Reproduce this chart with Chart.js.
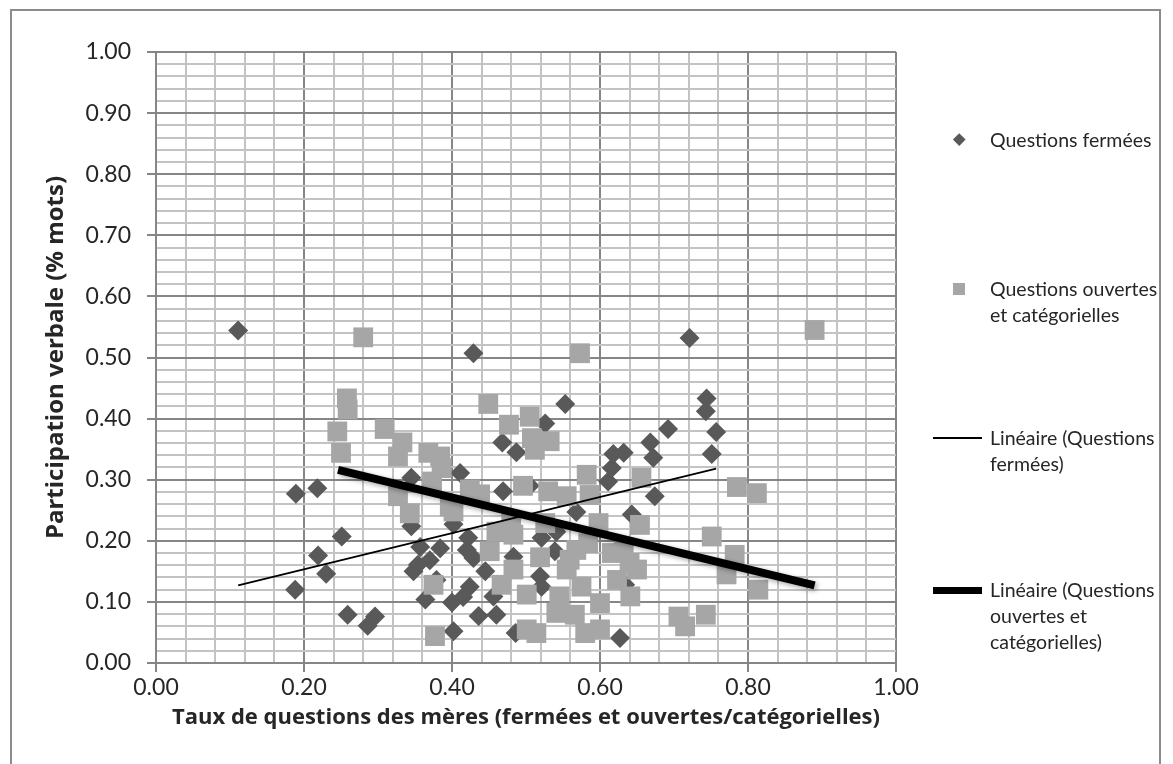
<!DOCTYPE html>
<html><head><meta charset="utf-8">
<script src="https://cdn.jsdelivr.net/npm/chart.js@4.4.0/dist/chart.umd.min.js"></script>
<style>
html,body{margin:0;padding:0;background:#fff;}
#wrap{position:relative;width:1173px;height:764px;overflow:hidden;background:#fff;}
canvas{position:absolute;left:0;top:0;}
#frame{position:absolute;left:10px;top:9px;width:1151px;height:800px;border:2px solid #8c8c8c;box-sizing:border-box;pointer-events:none;}
.lg{position:absolute;left:990px;font-family:Lato,"Liberation Sans",sans-serif;font-size:19.5px;color:#262626;line-height:26px;white-space:nowrap;}
.mk{position:absolute;}
</style></head>
<body><div id="wrap">
<canvas id="c" width="1173" height="764"></canvas>
<div id="frame"></div>
<div class="mk" style="left:955px;top:135px;width:8.5px;height:8.5px;background:#595959;transform:rotate(45deg);"></div>
<div class="lg" style="top:127px;">Questions fermées</div>
<div class="mk" style="left:953px;top:283px;width:12px;height:12px;background:#a6a6a6;"></div>
<div class="lg" style="top:276px;">Questions ouvertes<br>et catégorielles</div>
<div class="mk" style="left:933px;top:437px;width:49px;height:2px;background:#000;"></div>
<div class="lg" style="top:425px;">Linéaire (Questions<br>fermées)</div>
<div class="mk" style="left:933px;top:587px;width:49px;height:7px;background:#000;"></div>
<div class="lg" style="top:577px;">Linéaire (Questions<br>ouvertes et<br>catégorielles)</div>
</div>
<script>
// Questions fermées
const closedX = [0.111,0.189,0.218,0.188,0.219,0.230,0.251,0.259,0.286,0.296,0.345,0.345,0.357,0.354,0.348,0.364,0.379,0.384,0.370,0.402,0.411,0.400,0.402,0.415,0.422,0.420,0.429,0.424,0.429,0.436,0.445,0.456,0.460,0.469,0.468,0.483,0.487,0.486,0.505,0.521,0.519,0.521,0.526,0.539,0.541,0.553,0.568,0.611,0.616,0.618,0.632,0.634,0.627,0.643,0.668,0.672,0.674,0.692,0.721,0.744,0.743,0.751,0.757];
const closedY = [0.544,0.277,0.286,0.120,0.176,0.146,0.207,0.079,0.061,0.076,0.303,0.224,0.190,0.161,0.150,0.104,0.136,0.188,0.168,0.227,0.311,0.099,0.052,0.108,0.205,0.185,0.172,0.125,0.507,0.077,0.150,0.109,0.079,0.281,0.361,0.174,0.345,0.049,0.290,0.205,0.142,0.125,0.392,0.183,0.215,0.424,0.247,0.297,0.319,0.342,0.344,0.128,0.041,0.243,0.361,0.336,0.273,0.383,0.532,0.433,0.412,0.342,0.378];
// Questions ouvertes et catégorielles
const openX = [0.280,0.258,0.259,0.245,0.250,0.309,0.333,0.327,0.327,0.343,0.368,0.384,0.386,0.373,0.375,0.377,0.397,0.402,0.424,0.438,0.449,0.451,0.460,0.467,0.477,0.480,0.483,0.483,0.496,0.501,0.501,0.505,0.508,0.512,0.514,0.519,0.526,0.530,0.532,0.541,0.545,0.555,0.555,0.559,0.566,0.568,0.573,0.575,0.580,0.582,0.584,0.586,0.598,0.600,0.600,0.616,0.623,0.632,0.640,0.641,0.650,0.654,0.656,0.706,0.715,0.743,0.751,0.771,0.782,0.785,0.812,0.814,0.890];
const openY = [0.533,0.433,0.415,0.379,0.344,0.383,0.361,0.338,0.273,0.245,0.344,0.338,0.319,0.297,0.128,0.044,0.256,0.248,0.284,0.276,0.424,0.183,0.215,0.128,0.390,0.229,0.210,0.153,0.290,0.112,0.055,0.403,0.368,0.349,0.049,0.173,0.229,0.281,0.363,0.082,0.109,0.273,0.153,0.169,0.079,0.185,0.507,0.125,0.049,0.308,0.196,0.275,0.229,0.098,0.055,0.180,0.136,0.188,0.164,0.109,0.153,0.226,0.303,0.076,0.060,0.079,0.207,0.145,0.177,0.288,0.278,0.120,0.545];
// Linear trend lines (end points)
const trendClosedX = [0.111, 0.757];
const trendClosedY = [0.127, 0.318];
const trendOpenX = [0.246, 0.890];
const trendOpenY = [0.316, 0.127];
// Tick labels
const xTickLabels = ['0.00','0.20','0.40','0.60','0.80','1.00'];
const yTickLabels = ['0.00','0.10','0.20','0.30','0.40','0.50','0.60','0.70','0.80','0.90','1.00'];

const pts = (xs, ys) => xs.map((x, i) => ({x: x, y: ys[i]}));
const FONT = 'Lato, "Liberation Sans", sans-serif';
const TFONT = '"Open Sans", "Liberation Sans", sans-serif';
const MAJ = '#868686', MIN = '#c3c3c3';
const xMajor = v => Math.round(v * 100) % 20 === 0;
const yMajor = v => Math.round(v * 100) % 10 === 0;

const shadowPlugin = {
  id: 'shadow',
  beforeDatasetDraw(chart, args) {
    if (args.index === 0) {
      const c = chart.ctx; c.save();
      c.shadowColor = 'rgba(0,0,0,0.35)'; c.shadowBlur = 5; c.shadowOffsetX = 2; c.shadowOffsetY = 2;
    }
  },
  afterDatasetDraw(chart, args) { if (args.index === 0) chart.ctx.restore(); }
};

new Chart(document.getElementById('c'), {
  type: 'scatter',
  data: {
    datasets: [
      {label: 'Linéaire (Questions ouvertes et catégorielles)', type: 'line', data: pts(trendOpenX, trendOpenY), borderColor: '#000', borderWidth: 8, pointRadius: 0, fill: false, borderCapStyle: 'butt'},
      {label: 'Linéaire (Questions fermées)', type: 'line', data: pts(trendClosedX, trendClosedY), borderColor: '#000', borderWidth: 1.75, pointRadius: 0, fill: false},
      {label: 'Questions ouvertes et catégorielles', data: pts(openX, openY), pointStyle: 'rect', pointRadius: 14, pointHoverRadius: 14, backgroundColor: '#a6a6a6', borderWidth: 0},
      {label: 'Questions fermées', data: pts(closedX, closedY), pointStyle: 'rectRot', pointRadius: 10, pointHoverRadius: 10, backgroundColor: '#595959', borderWidth: 0}
    ]
  },
  plugins: [shadowPlugin],
  options: {
    responsive: false,
    animation: false,
    events: [],
    layout: {padding: {left: 0, top: 52, right: 277, bottom: 0}},
    plugins: {legend: {display: false}, tooltip: {enabled: false}},
    scales: {
      x: {
        type: 'linear', min: 0, max: 1,
        afterFit: s => { s.height = 101; },
        ticks: {stepSize: 0.04, autoSkip: false, maxRotation: 0, padding: 2, color: '#262626', font: {family: FONT, size: 23},
          callback: v => xMajor(v) ? xTickLabels[Math.round(v * 5)] : ''},
        grid: {lineWidth: 2, tickLength: 9, color: c => xMajor(c.tick.value) ? MAJ : MIN, tickColor: c => xMajor(c.tick.value) ? MAJ : 'rgba(0,0,0,0)'},
        border: {color: MAJ, width: 2},
        title: {display: true, text: 'Taux de questions des mères (fermées et ouvertes/catégorielles)', color: '#262626', font: {family: TFONT, size: 22, weight: 'bold'}, padding: {top: 0, bottom: 33}}
      },
      y: {
        type: 'linear', min: 0, max: 1,
        afterFit: s => { s.width = 156; },
        ticks: {stepSize: 0.02, autoSkip: false, padding: 16, color: '#262626', font: {family: FONT, size: 23},
          callback: v => yMajor(v) ? yTickLabels[Math.round(v * 10)] : ''},
        grid: {lineWidth: 2, tickLength: 9, color: c => yMajor(c.tick.value) ? MAJ : MIN, tickColor: c => yMajor(c.tick.value) ? MAJ : 'rgba(0,0,0,0)'},
        border: {color: MAJ, width: 2},
        title: {display: true, text: 'Participation verbale (% mots)', color: '#262626', font: {family: TFONT, size: 24, weight: 'bold'}, padding: {top: 42, bottom: 0}}
      }
    }
  }
});
</script>
</body></html>
